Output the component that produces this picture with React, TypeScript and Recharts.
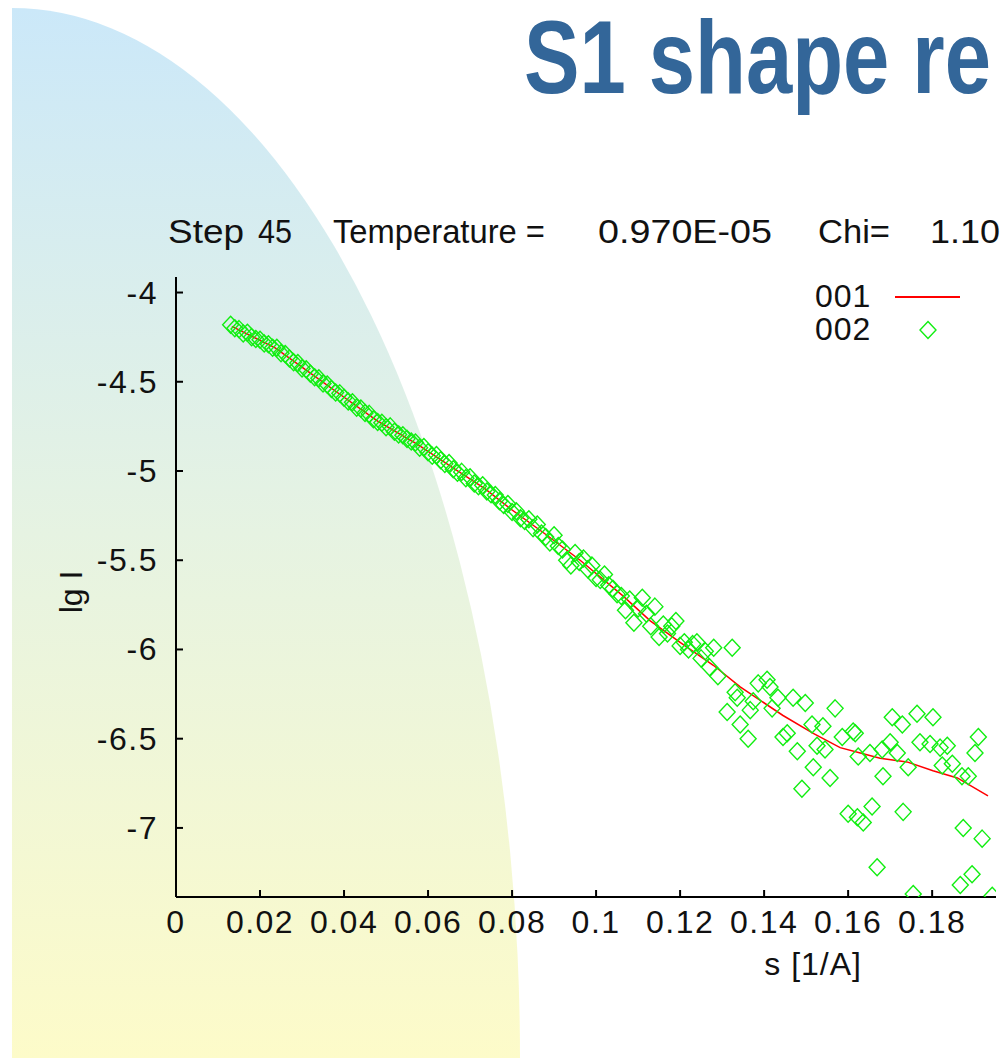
// SAXS shape fit — lg I vs s, fitted curve (001) and experimental points (002)
import {
  ComposedChart, Line, Scatter, XAxis, YAxis,
} from 'recharts'

const xTicks = [0, 0.02, 0.04, 0.06, 0.08, 0.1, 0.12, 0.14, 0.16, 0.18]
const xTickLabels = ['0', '0.02', '0.04', '0.06', '0.08', '0.1', '0.12', '0.14', '0.16', '0.18']
const yTicks = [-7, -6.5, -6, -5.5, -5, -4.5, -4]
const yTickLabels = ['-7', '-6.5', '-6', '-5.5', '-5', '-4.5', '-4']

// 001: fitted curve
const fitS = [
  0.0133, 0.0236, 0.0319, 0.039, 0.048, 0.0574, 0.0664, 0.0736, 0.0795, 0.0883,
  0.0962, 0.1064, 0.1129, 0.12, 0.128, 0.1343, 0.1445, 0.1517, 0.1581, 0.1629,
  0.1676, 0.174, 0.1802, 0.186, 0.1933,
]
const fitLg = [
  -4.19, -4.31, -4.45, -4.57, -4.72, -4.85, -4.99, -5.10, -5.21, -5.36,
  -5.50, -5.70, -5.84, -5.96, -6.09, -6.21, -6.37, -6.47, -6.55, -6.58,
  -6.61, -6.63, -6.68, -6.72, -6.82,
]

// 002: experimental points
const obsS = [
  0.013, 0.014, 0.015, 0.016, 0.017, 0.018, 0.019, 0.020, 0.021, 0.022,
  0.023, 0.024, 0.025, 0.026, 0.027, 0.028, 0.029, 0.030, 0.031, 0.032,
  0.033, 0.034, 0.035, 0.036, 0.037, 0.038, 0.039, 0.040, 0.041, 0.042,
  0.043, 0.044, 0.045, 0.046, 0.047, 0.048, 0.049, 0.050, 0.051, 0.052,
  0.053, 0.054, 0.055, 0.056, 0.057, 0.058, 0.059, 0.060, 0.061, 0.062,
  0.063, 0.064, 0.065, 0.066, 0.067, 0.068, 0.069, 0.070, 0.071, 0.072,
  0.073, 0.074, 0.075, 0.076, 0.077, 0.078, 0.079, 0.080, 0.081, 0.082,
  0.083, 0.084, 0.085, 0.086, 0.087, 0.088, 0.089, 0.090, 0.091, 0.092,
  0.093, 0.094, 0.095, 0.096, 0.097, 0.098, 0.099, 0.100, 0.101, 0.102,
  0.103, 0.104, 0.105, 0.106, 0.107, 0.108, 0.109, 0.110, 0.111, 0.112,
  0.113, 0.114, 0.115, 0.116, 0.117, 0.118, 0.119, 0.120, 0.121, 0.122,
  0.123, 0.124, 0.125, 0.126, 0.127, 0.128,
  0.129, 0.1312, 0.1324, 0.1331, 0.1336, 0.1343, 0.1362, 0.1367, 0.1374, 0.1386,
  0.1407, 0.1414, 0.1419, 0.1433, 0.1445, 0.1455, 0.1469, 0.1479, 0.149, 0.1498,
  0.1514, 0.1517, 0.1526, 0.154, 0.1545, 0.1557, 0.1569, 0.1586, 0.16, 0.1612,
  0.1617, 0.1624, 0.1622, 0.1636, 0.1652, 0.1657, 0.1669, 0.1681, 0.1683, 0.17,
  0.1705, 0.1717, 0.1729, 0.1731, 0.1743, 0.1755, 0.1764, 0.1771, 0.1795, 0.1802,
  0.1819, 0.1824, 0.1836, 0.1848, 0.1867, 0.1871, 0.1874, 0.1886, 0.1895, 0.1902,
  0.191, 0.1919, 0.1943,
]
const obsLg = [
  -4.18, -4.20, -4.205, -4.23, -4.225, -4.25, -4.26, -4.265, -4.285, -4.29,
  -4.31, -4.31, -4.34, -4.345, -4.37, -4.39, -4.395, -4.425, -4.43, -4.455,
  -4.475, -4.48, -4.51, -4.515, -4.54, -4.56, -4.565, -4.59, -4.61, -4.615,
  -4.645, -4.65, -4.675, -4.68, -4.71, -4.725, -4.73, -4.755, -4.75, -4.78,
  -4.795, -4.80, -4.82, -4.835, -4.84, -4.87, -4.865, -4.895, -4.915, -4.91,
  -4.94, -4.96, -4.955, -4.99, -5.01, -5.005, -5.04, -5.035, -5.07, -5.085,
  -5.08, -5.115, -5.13, -5.135, -5.17, -5.19, -5.185, -5.23, -5.225, -5.265,
  -5.28, -5.27, -5.32, -5.30, -5.35, -5.37, -5.40, -5.36, -5.42, -5.44,
  -5.50, -5.53, -5.46, -5.51, -5.49, -5.55, -5.53, -5.60, -5.61, -5.58,
  -5.64, -5.66, -5.69, -5.70, -5.78, -5.72, -5.85, -5.77, -5.71, -5.80,
  -5.87, -5.76, -5.93, -5.86, -5.91, -5.87, -5.84, -5.98, -5.96, -6.00,
  -5.97, -5.96, -6.05, -6.01, -6.10, -5.99,
  -6.15, -6.35, -5.99, -6.24, -6.27, -6.42, -6.50, -6.34, -6.29, -6.19,
  -6.17, -6.21, -6.33, -6.27, -6.49, -6.47, -6.27, -6.57, -6.78, -6.30,
  -6.42, -6.66, -6.54, -6.43, -6.56, -6.72, -6.33, -6.49, -6.92, -6.46,
  -6.47, -6.60, -6.94, -6.97, -6.58, -6.88, -7.22, -6.56, -6.71, -6.52,
  -6.38, -6.58, -6.42, -6.91, -6.66, -7.37, -6.36, -6.52, -6.53, -6.38,
  -6.55, -6.65, -6.54, -6.64, -7.32, -6.71, -7.00, -6.71, -7.26, -6.58,
  -6.49, -7.06, -7.38,
]

const fitData = fitS.map((s, i) => ({ s, fit: fitLg[i] }))
const obsData = obsS.map((s, i) => ({ s, lg: obsLg[i] }))

const FONT = '"Liberation Sans", Arial, sans-serif'
const GREEN = '#11ee11'

function Diamond({ cx, cy }: { cx?: number; cy?: number }) {
  if (cx == null || cy == null) return null
  return (
    <path
      d={`M${cx},${cy - 8.5}L${cx + 8},${cy}L${cx},${cy + 8.5}L${cx - 8},${cy}Z`}
      fill="none"
      stroke={GREEN}
      strokeWidth={1.4}
    />
  )
}

function XTick({ x, y, payload }: { x?: number; y?: number; payload?: { value: number } }) {
  const i = xTicks.indexOf(payload!.value)
  return (
    <text x={x} y={y} dy={26} textAnchor="middle" fontSize={32} fontFamily={FONT} letterSpacing={1.5} fill="#111">
      {xTickLabels[i]}
    </text>
  )
}

function YTick({ x, y, payload }: { x?: number; y?: number; payload?: { value: number } }) {
  const i = yTicks.indexOf(payload!.value)
  return (
    <text x={x} y={y} dy={11} textAnchor="end" fontSize={32} fontFamily={FONT} letterSpacing={1.5} fill="#111">
      {yTickLabels[i]}
    </text>
  )
}

function XLabel({ viewBox }: { viewBox?: { x: number; y: number; width: number } }) {
  const vb = viewBox!
  return (
    <text x={vb.x + vb.width * 0.777} y={vb.y + 78} textAnchor="middle" fontSize={32} fontFamily={FONT} letterSpacing={1} fill="#111">
      s [1/A]
    </text>
  )
}

function YLabel({ viewBox }: { viewBox?: { x: number; y: number; height: number } }) {
  const vb = viewBox!
  const cx = vb.x + 82
  const cy = vb.y + vb.height * 0.508
  return (
    <text x={cx} y={cy} transform={`rotate(-90 ${cx} ${cy})`} textAnchor="middle" fontSize={32} fontFamily={FONT} fill="#111">
      lg I
    </text>
  )
}

// subtitle pieces: [text, left x, width]
const headerParts: [string, number, number][] = [
  ['Step', 168, 76],
  ['45', 258, 34],
  ['Temperature =', 333, 212],
  ['0.970E-05', 598, 174],
  ['Chi=', 818, 72],
  ['1.10', 930, 70],
]

export default function App() {
  return (
    <div style={{ position: 'absolute', left: 0, top: 0, width: 1005, height: 1058, overflow: 'hidden', background: '#fff' }}>
      <svg width={1005} height={1058} style={{ position: 'absolute', left: 0, top: 0 }}>
        <defs>
          <linearGradient id="bg" x1="0" y1="0" x2="0" y2="1">
            <stop offset="0" stopColor="#cbe8f9" />
            <stop offset="0.5" stopColor="#e6f3e2" />
            <stop offset="1" stopColor="#fdfbc9" />
          </linearGradient>
        </defs>
        <path d="M12,1058 L12,8 A508,1050 0 0 1 520,1058 Z" fill="url(#bg)" />
        <text x={0} y={0} transform="translate(524 93) scale(0.8 1)" fontSize={104} fontWeight="bold" fontFamily={FONT} fill="#336699">
          S1 shape re
        </text>
        {headerParts.map(([t, x, w]) => (
          <text key={t} x={x} y={243} fontSize={33} fontFamily={FONT} fill="#111" textLength={w} lengthAdjust="spacingAndGlyphs">
            {t}
          </text>
        ))}
        {/* legend */}
        <text x={815} y={307} fontSize={32} fontFamily={FONT} letterSpacing={1} fill="#111">001</text>
        <line x1={895} y1={297} x2={960} y2={297} stroke="#ff0000" strokeWidth={2} />
        <text x={815} y={340} fontSize={32} fontFamily={FONT} letterSpacing={1} fill="#111">002</text>
        <Diamond cx={928} cy={330} />
      </svg>
      <div style={{ position: 'absolute', left: 0, top: 0 }}>
        <ComposedChart width={1005} height={1058} margin={{ top: 277, right: 9, bottom: 61, left: 0 }}>
          <XAxis
            type="number"
            dataKey="s"
            domain={[0, 0.1952]}
            ticks={xTicks}
            allowDataOverflow
            height={100}
            axisLine={{ stroke: '#000', strokeWidth: 2 }}
            tickLine={{ stroke: '#000', strokeWidth: 2 }}
            tickSize={-7}
            tickMargin={17}
            tick={(p: any) => <XTick {...p} />}
            label={<XLabel />}
          />
          <YAxis
            type="number"
            domain={[-7.387, -3.913]}
            ticks={yTicks}
            allowDataOverflow
            width={176}
            axisLine={{ stroke: '#000', strokeWidth: 2 }}
            tickLine={{ stroke: '#000', strokeWidth: 2 }}
            tickSize={-7}
            tickMargin={25}
            tick={(p: any) => <YTick {...p} />}
            label={<YLabel />}
          />
          <Line
            data={fitData}
            dataKey="fit"
            type="linear"
            stroke="#ff0000"
            strokeWidth={1.5}
            dot={false}
            isAnimationActive={false}
            name="001"
          />
          <Scatter
            data={obsData}
            dataKey="lg"
            shape={(p: any) => <Diamond cx={p.cx} cy={p.cy} />}
            isAnimationActive={false}
            name="002"
          />
        </ComposedChart>
      </div>
    </div>
  )
}
